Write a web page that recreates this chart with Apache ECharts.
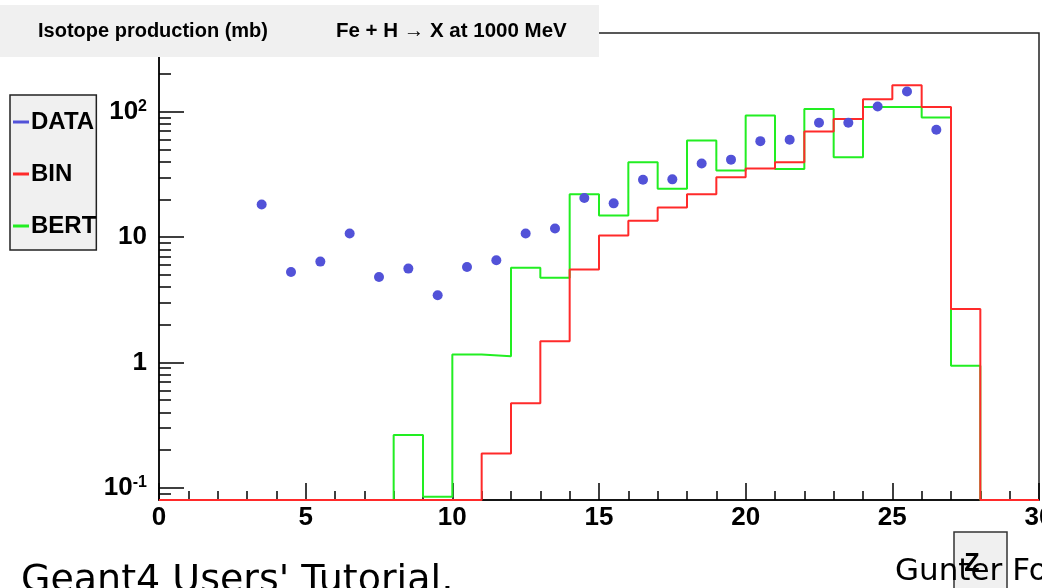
<!DOCTYPE html>
<html>
<head>
<meta charset="utf-8">
<script src="https://cdn.jsdelivr.net/npm/echarts@6/dist/echarts.min.js"></script>
<style>
  html, body { margin: 0; padding: 0; background: #fff; }
  #chart { width: 1042px; height: 588px; }
</style>
</head>
<body>
<div id="chart"></div>
<script>
// bins of width 1 from Z = 0 to 30
var binEdges = [0, 1, 2, 3, 4, 5, 6, 7, 8, 9, 10, 11, 12, 13, 14, 15, 16, 17, 18, 19, 20, 21, 22, 23, 24, 25, 26, 27, 28, 29];
var binValues = [0, 0, 0, 0, 0, 0, 0, 0, 0, 0, 0, 0.188, 0.474, 1.48, 5.53, 10.3, 13.5, 17.2, 22, 30, 35.3, 39.6, 69.5, 87.7, 126, 163, 109, 2.67, 0, 0];
var bertValues = [0, 0, 0, 0, 0, 0, 0, 0, 0.264, 0.085, 1.16, 1.12, 5.7, 4.75, 22, 14.9, 39.6, 24.3, 58.9, 34, 93.6, 35, 105, 43.4, 109, 109, 90.2, 0.94, 0, 0];

var dataZ = [3.5, 4.5, 5.5, 6.5, 7.5, 8.5, 9.5, 10.5, 11.5, 12.5, 13.5, 14.5, 15.5, 16.5, 17.5, 18.5, 19.5, 20.5, 21.5, 22.5, 23.5, 24.5, 25.5, 26.5];
var dataValues = [18.2, 5.27, 6.38, 10.7, 4.81, 5.61, 3.44, 5.78, 6.53, 10.7, 11.7, 20.5, 18.6, 28.7, 28.9, 38.7, 41.5, 58.3, 59.8, 81.7, 81.7, 110, 145, 71.9];

var yTickValues = [0.1, 1, 10, 100];
var yTickLabels = ['{b|10}{s|-1}', '{b|1}', '{b|10}', '{b|10}{s|2}'];
var yMinorValues = [0.09, 0.2, 0.3, 0.4, 0.5, 0.6, 0.7, 0.8, 0.9, 2, 3, 4, 5, 6, 7, 8, 9, 20, 30, 40, 50, 60, 70, 80, 90, 200, 300, 400];

var yMin = 0.08, yMax = 425;

// histogram outline: left edge of each bin, then the right edge of the last one
function histPoints(values) {
    var pts = [];
    for (var i = 0; i < binEdges.length; i++) {
        pts.push([binEdges[i], values[i] > 0 ? values[i] : yMin]);
    }
    pts.push([30, values[values.length - 1] > 0 ? values[values.length - 1] : yMin]);
    return pts;
}

var dataPoints = dataZ.map(function (z, i) { return [z, dataValues[i]]; });

var bold = 'Liberation Sans';
var myChart = echarts.init(document.getElementById('chart'));

var option = {
    animation: false,
    grid: {
        left: 159, right: 3, top: 33, bottom: 88,
        show: true, borderColor: '#222', borderWidth: 1.5,
        outerBoundsMode: 'none'
    },
    legend: {
        orient: 'vertical',
        left: 10, top: 95,
        padding: [15, 0, 12, 3],
        itemGap: 28,
        itemWidth: 16, itemHeight: 3,
        backgroundColor: '#f0f0f0',
        borderColor: '#222', borderWidth: 1.5,
        selectedMode: false,
        textStyle: { fontFamily: bold, fontWeight: 'bold', fontSize: 24, color: '#000', padding: [0, 0, 0, -3] },
        data: [
            { name: 'DATA', icon: 'rect' },
            { name: 'BIN', icon: 'rect' },
            { name: 'BERT', icon: 'rect' }
        ]
    },
    xAxis: {
        type: 'value', min: 0, max: 30, interval: 5,
        axisLine: { onZero: false, lineStyle: { color: '#000', width: 1.5 } },
        axisTick: { inside: true, length: 17, lineStyle: { color: '#000', width: 1.5 } },
        minorTick: { show: true, splitNumber: 5, length: 9, lineStyle: { color: '#000', width: 1.5 } },
        splitLine: { show: false },
        axisLabel: {
            fontFamily: bold, fontWeight: 'bold', fontSize: 26, color: '#000',
            margin: 5, showMaxLabel: true, hideOverlap: false
        }
    },
    yAxis: [
        {
            type: 'log', logBase: 10, min: yMin, max: yMax, position: 'left',
            axisLine: { show: true, lineStyle: { color: '#000', width: 1.5 } },
            axisTick: { inside: true, length: 25, customValues: yTickValues, lineStyle: { color: '#000', width: 1.5 } },
            splitLine: { show: false },
            axisLabel: {
                customValues: yTickValues,
                margin: 12,
                formatter: function (v) {
                    for (var i = 0; i < yTickValues.length; i++) {
                        if (Math.abs(v / yTickValues[i] - 1) < 1e-6) return yTickLabels[i];
                    }
                    return '';
                },
                rich: {
                    b: { fontFamily: bold, fontWeight: 'bold', fontSize: 26, color: '#000' },
                    s: { fontFamily: bold, fontWeight: 'bold', fontSize: 16, color: '#000', verticalAlign: 'top' }
                }
            }
        },
        {
            type: 'log', logBase: 10, min: yMin, max: yMax, position: 'left',
            axisLine: { show: false },
            axisTick: { inside: true, length: 12, customValues: yMinorValues, lineStyle: { color: '#000', width: 1.5 } },
            splitLine: { show: false },
            axisLabel: { show: false }
        }
    ],
    series: [
        {
            name: 'BERT', type: 'line', step: 'end', yAxisIndex: 0,
            data: histPoints(bertValues),
            showSymbol: false, symbol: 'none',
            color: '#22ee22',
            lineStyle: { color: '#22ee22', width: 2 },
            z: 3
        },
        {
            name: 'BIN', type: 'line', step: 'end', yAxisIndex: 0,
            data: histPoints(binValues),
            showSymbol: false, symbol: 'none',
            color: '#ff2a2a',
            lineStyle: { color: '#ff2a2a', width: 2 },
            z: 4
        },
        {
            name: 'DATA', type: 'scatter', yAxisIndex: 0,
            data: dataPoints,
            symbolSize: 10,
            color: '#5252d8',
            itemStyle: { color: '#5252d8', opacity: 1 },
            z: 5
        }
    ],
    graphic: [
        { type: 'rect', z: 100, shape: { x: 0, y: 5, width: 599, height: 52 }, style: { fill: '#f0f0f0' } },
        { type: 'text', z: 101, x: 38, y: 31, style: { text: 'Isotope production (mb)', font: 'bold 20px "Liberation Sans"', fill: '#000', verticalAlign: 'middle' } },
        { type: 'text', z: 101, x: 336, y: 31, style: { text: 'Fe + H \u2192 X at 1000 MeV', font: 'bold 20.5px "Liberation Sans"', fill: '#000', verticalAlign: 'middle' } },
        { type: 'text', z: 101, x: 21, y: 581, style: { text: "Geant4 Users' Tutorial,", font: '38px "DejaVu Sans"', fill: '#000', verticalAlign: 'middle' } },
        { type: 'rect', z: 101, shape: { x: 954, y: 532, width: 53, height: 62 }, style: { fill: '#f0f0f0', stroke: '#333', lineWidth: 1.5 } },
        { type: 'text', z: 102, x: 972, y: 564, style: { text: 'Z', font: 'bold 25px "Liberation Sans"', fill: '#000', align: 'center', verticalAlign: 'middle' } },
        { type: 'text', z: 103, x: 895, y: 572, style: { text: 'Gunter Folger', font: '31px "DejaVu Sans"', fill: '#000', verticalAlign: 'middle' } }
    ]
};

myChart.setOption(option);
</script>
</body>
</html>
